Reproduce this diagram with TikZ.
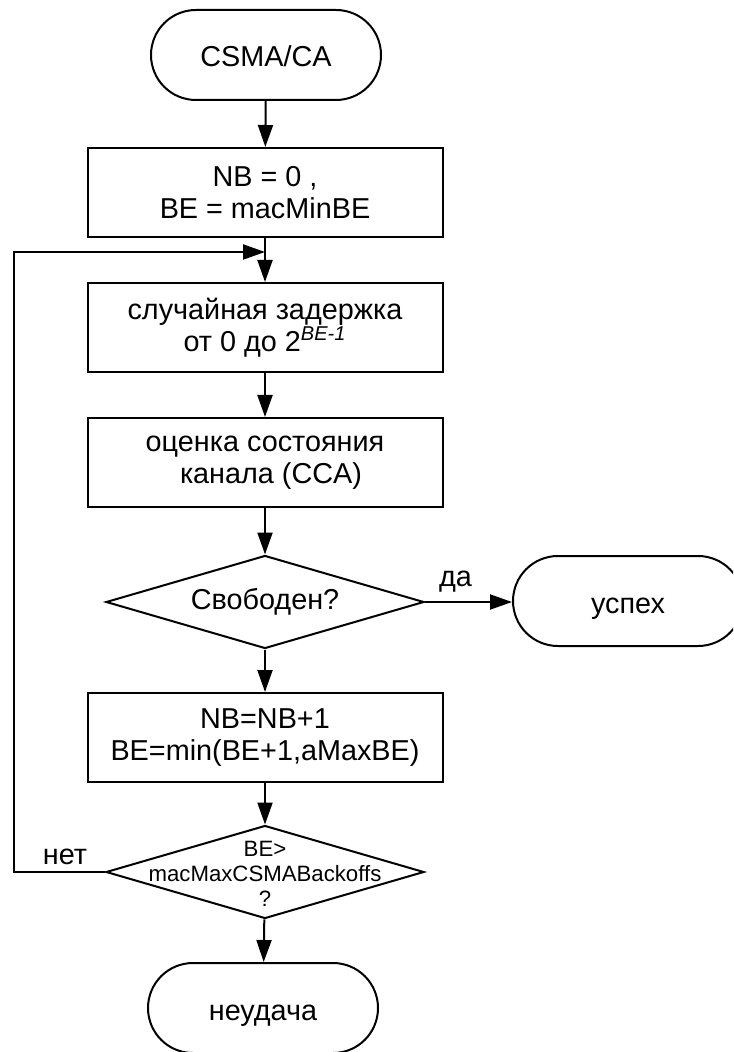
\documentclass[tikz,border=0pt]{standalone}
\usepackage{fontspec}
\setmainfont{Liberation Sans}
\usetikzlibrary{shapes.geometric,arrows.meta}

\begin{document}
\begin{tikzpicture}[x=0.5pt,y=-0.5pt,
  every node/.style={font=\fontsize{14.4}{16}\selectfont, align=center},
  line/.style={line width=1pt},
  flow/.style={line, -{Triangle[length=11pt,width=7.5pt]}},
  terminal/.style={draw, line width=1pt, rectangle, rounded corners=22.5pt,
    minimum width=115pt, minimum height=45pt, inner sep=0pt,
    text height=12pt, text depth=0pt},
  process/.style={draw, line width=1pt, rectangle,
    minimum width=177.5pt, minimum height=44.5pt, inner sep=0pt},
  decision/.style={draw, line width=1pt, diamond, inner sep=0pt,
    minimum width=159pt, minimum height=46.5pt},
  small/.style={font=\fontsize{11.1}{12.5}\selectfont}
]
\useasboundingbox (0,0) rectangle (733,1052);
\clip (0,0) rectangle (733,1052);

% main column
\node[terminal] (start) at (266,55) {CSMA/CA};
\node[process] (init) at (265,192.5) {NB = 0 ,\\BE = macMinBE};
\node[process] (delay) at (265,327.5) {случайная задержка\\от 0 до 2\textsuperscript{\itshape BE-1}};
\node[process] (cca) at (265,462.5) {оценка состояния\\\hspace*{6pt}канала (CCA)};
\node[decision] (free) at (265,602) {};
\node at (free) {Свободен?};
\node[terminal] (ok) at (628,601) {успех};
\node[process] (inc) at (265,737.5) {NB=NB+1\\BE=min(BE+1,aMaxBE)};
\node[decision] (limit) at (265,872) {};
\node[small] (limittext) at (265,874) {BE>\\macMaxCSMABackoffs\\?};
\node[terminal] (fail) at (263,1008) {неудача};

% loop-back corner points
\coordinate (join) at (265,252);
\coordinate (cornerlow) at (14,872);
\coordinate (cornerhigh) at (14,252);

% connectors
\draw[flow] (start) -- (init);
\draw[line] (init) -- (join);
\draw[flow] (join) -- (delay);
\draw[flow] (delay) -- (cca);
\draw[flow] (cca) -- (free);
\draw[flow] (free.east) -- (ok.west |- free.east) node[pos=0.35, above=1pt] {да};
\draw[flow] (free) -- (inc);
\draw[flow] (inc) -- (limit);
\draw[flow] (limit) -- (fail);
\draw[flow] (limit.west) -- (cornerlow) -- (cornerhigh) -- (join);
\node (no) at (65,857) {нет};
\end{tikzpicture}
\end{document}
